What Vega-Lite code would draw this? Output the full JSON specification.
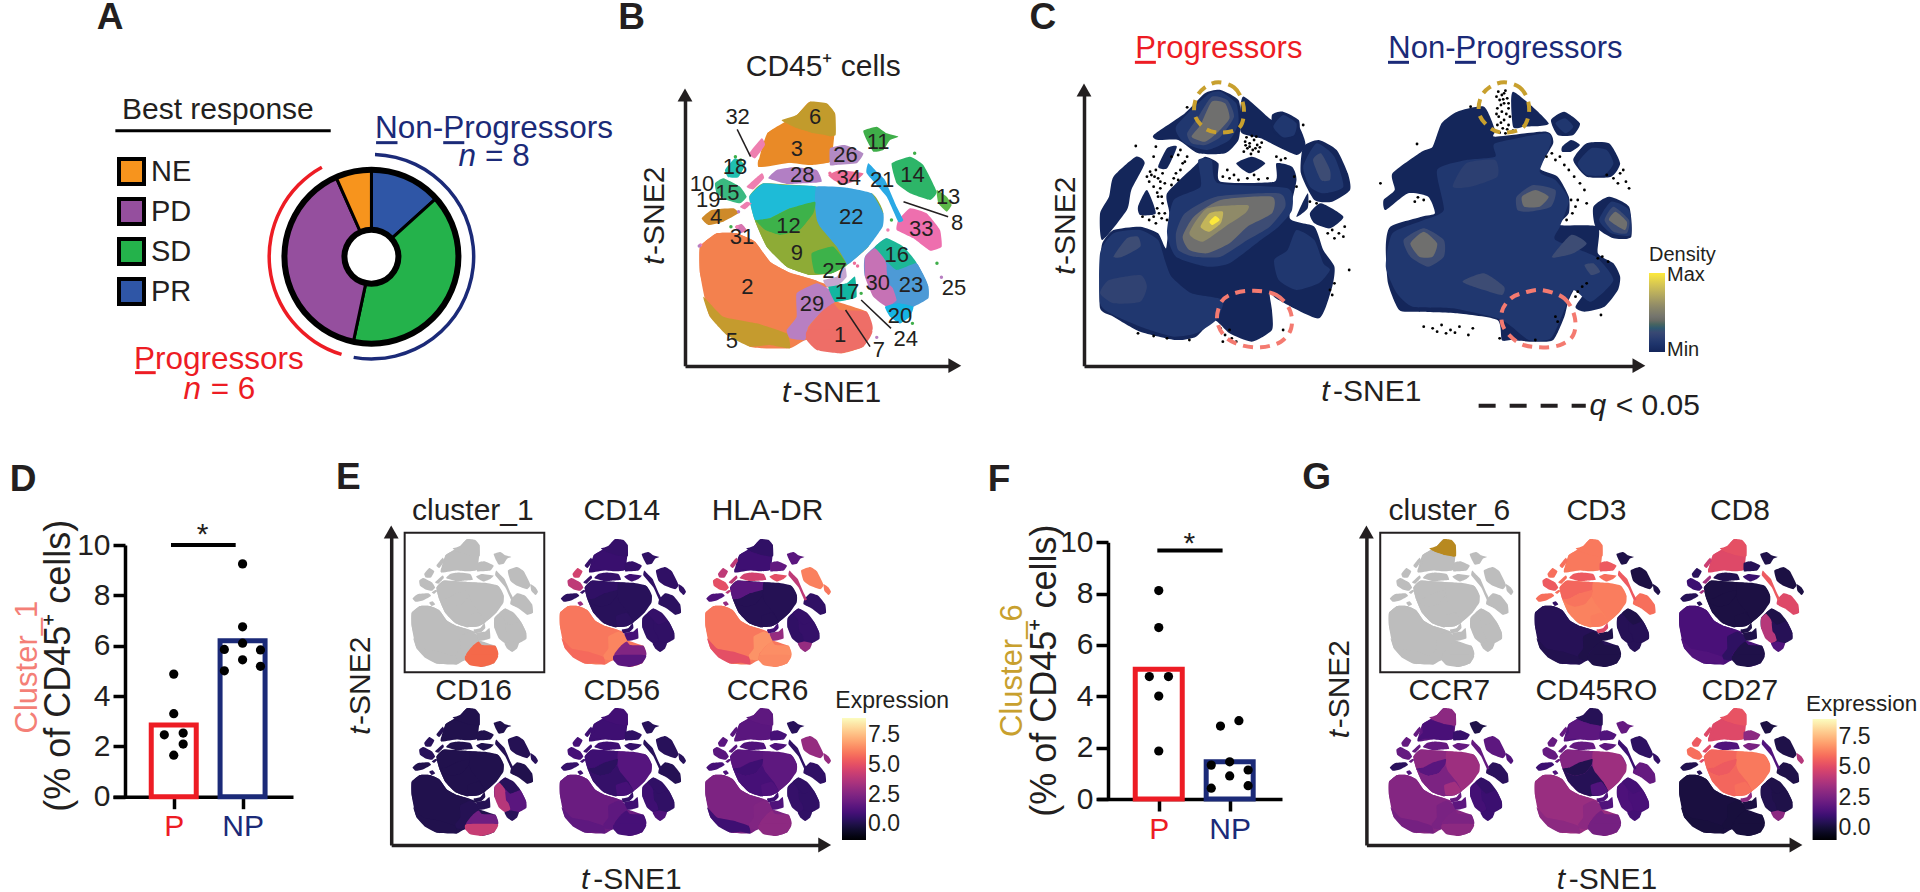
{"$schema":"https://vega.github.io/schema/vega-lite/v6.json","width":1920,"height":892,"padding":0,"autosize":"none","background":"white",
"config":{"view":{"stroke":null},"font":"Liberation Sans","axis":{"grid":false},"text":{"color":"#231f20"}},
"resolve":{"scale":{"x":"independent","y":"independent","fill":"independent","stroke":"independent","theta":"independent"},"axis":{"x":"independent","y":"independent"},"legend":{"fill":"independent"}},
"datasets":{
"map":[
{"c":"b1","x":30,"y":470},{"c":"b1","x":80,"y":430},{"c":"b1","x":140,"y":430},{"c":"b1","x":195,"y":455},{"c":"b1","x":240,"y":515},{"c":"b1","x":300,"y":548},{"c":"b1","x":380,"y":572},{"c":"b1","x":430,"y":630},{"c":"b1","x":530,"y":665},{"c":"b1","x":545,"y":720},{"c":"b1","x":520,"y":770},{"c":"b1","x":450,"y":790},{"c":"b1","x":350,"y":750},{"c":"b1","x":300,"y":775},{"c":"b1","x":180,"y":770},{"c":"b1","x":60,"y":680},{"c":"b1","x":30,"y":550},
{"c":"b2","x":178,"y":320},{"c":"b2","x":220,"y":280},{"c":"b2","x":380,"y":290},{"c":"b2","x":545,"y":310},{"c":"b2","x":580,"y":370},{"c":"b2","x":535,"y":470},{"c":"b2","x":470,"y":525},{"c":"b2","x":425,"y":550},{"c":"b2","x":360,"y":555},{"c":"b2","x":290,"y":530},{"c":"b2","x":230,"y":470},{"c":"b2","x":195,"y":392},
{"c":"b3","x":232,"y":130},{"c":"b3","x":320,"y":75},{"c":"b3","x":360,"y":35},{"c":"b3","x":435,"y":70},{"c":"b3","x":420,"y":215},{"c":"b3","x":300,"y":218},{"c":"b3","x":205,"y":230},
{"c":"b4","x":525,"y":500},{"c":"b4","x":590,"y":445},{"c":"b4","x":680,"y":520},{"c":"b4","x":715,"y":590},{"c":"b4","x":670,"y":650},{"c":"b4","x":630,"y":700},{"c":"b4","x":590,"y":650},{"c":"b4","x":525,"y":560},
{"c":"2","x":30,"y":470},{"c":"2","x":80,"y":430},{"c":"2","x":140,"y":430},{"c":"2","x":195,"y":455},{"c":"2","x":240,"y":515},{"c":"2","x":300,"y":548},{"c":"2","x":380,"y":572},{"c":"2","x":420,"y":590},{"c":"2","x":330,"y":610},{"c":"2","x":320,"y":720},{"c":"2","x":290,"y":745},{"c":"2","x":200,"y":700},{"c":"2","x":100,"y":690},{"c":"2","x":50,"y":620},{"c":"2","x":30,"y":550},
{"c":"5","x":40,"y":620},{"c":"5","x":100,"y":680},{"c":"5","x":200,"y":700},{"c":"5","x":290,"y":730},{"c":"5","x":300,"y":775},{"c":"5","x":240,"y":765},{"c":"5","x":180,"y":770},{"c":"5","x":110,"y":735},{"c":"5","x":60,"y":680},
{"c":"29","x":320,"y":610},{"c":"29","x":380,"y":580},{"c":"29","x":420,"y":600},{"c":"29","x":435,"y":635},{"c":"29","x":395,"y":665},{"c":"29","x":355,"y":710},{"c":"29","x":345,"y":750},{"c":"29","x":300,"y":745},{"c":"29","x":290,"y":720},{"c":"29","x":320,"y":680},
{"c":"1a","x":430,"y":640},{"c":"1a","x":450,"y":660},{"c":"1a","x":530,"y":665},{"c":"1a","x":545,"y":722},{"c":"1a","x":356,"y":722},{"c":"1a","x":395,"y":665},
{"c":"1b","x":356,"y":720},{"c":"1b","x":545,"y":720},{"c":"1b","x":520,"y":770},{"c":"1b","x":450,"y":790},{"c":"1b","x":380,"y":780},{"c":"1b","x":350,"y":750},
{"c":"17","x":415,"y":590},{"c":"17","x":470,"y":580},{"c":"17","x":495,"y":560},{"c":"17","x":500,"y":620},{"c":"17","x":470,"y":630},{"c":"17","x":435,"y":635},
{"c":"6","x":275,"y":90},{"c":"6","x":320,"y":75},{"c":"6","x":360,"y":35},{"c":"6","x":410,"y":40},{"c":"6","x":435,"y":70},{"c":"6","x":437,"y":135},{"c":"6","x":400,"y":140},{"c":"6","x":355,"y":125},{"c":"6","x":320,"y":115},{"c":"6","x":290,"y":100},
{"c":"3","x":232,"y":130},{"c":"3","x":280,"y":105},{"c":"3","x":320,"y":115},{"c":"3","x":360,"y":128},{"c":"3","x":420,"y":140},{"c":"3","x":420,"y":215},{"c":"3","x":360,"y":225},{"c":"3","x":300,"y":218},{"c":"3","x":245,"y":215},{"c":"3","x":205,"y":230},{"c":"3","x":205,"y":210},{"c":"3","x":235,"y":180},
{"c":"26","x":420,"y":175},{"c":"26","x":465,"y":165},{"c":"26","x":520,"y":190},{"c":"26","x":500,"y":220},{"c":"26","x":440,"y":225},{"c":"26","x":420,"y":225},
{"c":"28","x":235,"y":265},{"c":"28","x":260,"y":240},{"c":"28","x":310,"y":232},{"c":"28","x":380,"y":240},{"c":"28","x":395,"y":275},{"c":"28","x":340,"y":280},{"c":"28","x":290,"y":282},
{"c":"34","x":415,"y":255},{"c":"34","x":450,"y":240},{"c":"34","x":520,"y":250},{"c":"34","x":500,"y":270},{"c":"34","x":460,"y":285},{"c":"34","x":430,"y":270},
{"c":"c","x":178,"y":320},{"c":"c","x":220,"y":280},{"c":"c","x":290,"y":285},{"c":"c","x":380,"y":290},{"c":"c","x":395,"y":345},{"c":"c","x":375,"y":345},{"c":"c","x":300,"y":355},{"c":"c","x":240,"y":385},{"c":"c","x":195,"y":390},
{"c":"22","x":380,"y":290},{"c":"22","x":470,"y":293},{"c":"22","x":545,"y":310},{"c":"22","x":580,"y":370},{"c":"22","x":578,"y":410},{"c":"22","x":535,"y":470},{"c":"22","x":470,"y":525},{"c":"22","x":440,"y":470},{"c":"22","x":385,"y":410},{"c":"22","x":375,"y":345},
{"c":"12","x":195,"y":392},{"c":"12","x":240,"y":385},{"c":"12","x":300,"y":355},{"c":"12","x":375,"y":335},{"c":"12","x":370,"y":370},{"c":"12","x":330,"y":420},{"c":"12","x":270,"y":435},{"c":"12","x":225,"y":420},
{"c":"9","x":195,"y":392},{"c":"9","x":225,"y":420},{"c":"9","x":270,"y":435},{"c":"9","x":330,"y":420},{"c":"9","x":370,"y":375},{"c":"9","x":390,"y":410},{"c":"9","x":440,"y":470},{"c":"9","x":470,"y":525},{"c":"9","x":425,"y":550},{"c":"9","x":360,"y":555},{"c":"9","x":290,"y":530},{"c":"9","x":230,"y":470},
{"c":"9b","x":365,"y":490},{"c":"9b","x":430,"y":470},{"c":"9b","x":470,"y":525},{"c":"9b","x":425,"y":550},{"c":"9b","x":375,"y":550},
{"c":"27","x":400,"y":570},{"c":"27","x":440,"y":560},{"c":"27","x":465,"y":530},{"c":"27","x":470,"y":560},{"c":"27","x":445,"y":585},{"c":"27","x":410,"y":590},
{"c":"16","x":555,"y":470},{"c":"16","x":590,"y":445},{"c":"16","x":640,"y":470},{"c":"16","x":680,"y":520},{"c":"16","x":620,"y":540},{"c":"16","x":585,"y":510},{"c":"16","x":560,"y":495},
{"c":"30","x":525,"y":500},{"c":"30","x":555,"y":475},{"c":"30","x":585,"y":510},{"c":"30","x":600,"y":570},{"c":"30","x":620,"y":630},{"c":"30","x":590,"y":650},{"c":"30","x":550,"y":620},{"c":"30","x":525,"y":560},
{"c":"23","x":590,"y":530},{"c":"23","x":620,"y":542},{"c":"23","x":680,"y":520},{"c":"23","x":715,"y":590},{"c":"23","x":715,"y":625},{"c":"23","x":670,"y":650},{"c":"23","x":625,"y":640},{"c":"23","x":615,"y":600},{"c":"23","x":595,"y":580},
{"c":"20","x":585,"y":650},{"c":"20","x":625,"y":640},{"c":"20","x":670,"y":650},{"c":"20","x":660,"y":680},{"c":"20","x":630,"y":700},{"c":"20","x":600,"y":680},
{"c":"33","x":625,"y":390},{"c":"33","x":660,"y":355},{"c":"33","x":710,"y":370},{"c":"33","x":750,"y":420},{"c":"33","x":755,"y":470},{"c":"33","x":720,"y":482},{"c":"33","x":670,"y":445},{"c":"33","x":620,"y":420},
{"c":"14","x":605,"y":220},{"c":"14","x":660,"y":200},{"c":"14","x":700,"y":225},{"c":"14","x":740,"y":305},{"c":"14","x":720,"y":330},{"c":"14","x":660,"y":310},{"c":"14","x":620,"y":280},
{"c":"13","x":740,"y":300},{"c":"13","x":770,"y":320},{"c":"13","x":785,"y":345},{"c":"13","x":770,"y":365},{"c":"13","x":745,"y":340},
{"c":"11","x":520,"y":122},{"c":"11","x":560,"y":110},{"c":"11","x":590,"y":130},{"c":"11","x":625,"y":140},{"c":"11","x":600,"y":150},{"c":"11","x":580,"y":180},{"c":"11","x":550,"y":185},{"c":"11","x":530,"y":150},
{"c":"21","x":535,"y":220},{"c":"21","x":560,"y":245},{"c":"21","x":585,"y":270},{"c":"21","x":620,"y":350},{"c":"21","x":640,"y":390},{"c":"21","x":625,"y":395},{"c":"21","x":590,"y":320},{"c":"21","x":530,"y":250},
{"c":"4","x":35,"y":385},{"c":"4","x":65,"y":360},{"c":"4","x":130,"y":355},{"c":"4","x":145,"y":370},{"c":"4","x":100,"y":395},{"c":"4","x":55,"y":405},
{"c":"15","x":75,"y":280},{"c":"15","x":100,"y":265},{"c":"15","x":150,"y":290},{"c":"15","x":170,"y":320},{"c":"15","x":150,"y":340},{"c":"15","x":110,"y":330},{"c":"15","x":80,"y":310},
{"c":"18","x":105,"y":240},{"c":"18","x":135,"y":205},{"c":"18","x":165,"y":225},{"c":"18","x":145,"y":262},{"c":"18","x":115,"y":262},
{"c":"31","x":135,"y":410},{"c":"31","x":155,"y":402},{"c":"31","x":170,"y":420},{"c":"31","x":150,"y":430},
{"c":"32a","x":178,"y":190},{"c":"32a","x":215,"y":145},{"c":"32a","x":225,"y":165},{"c":"32a","x":195,"y":205},
{"c":"32b","x":170,"y":290},{"c":"32b","x":215,"y":250},{"c":"32b","x":222,"y":265},{"c":"32b","x":190,"y":298},
{"c":"32c","x":150,"y":350},{"c":"32c","x":170,"y":335},{"c":"32c","x":185,"y":340},{"c":"32c","x":165,"y":358}
],
"expr":[
{"c":"b1","CD14":6.0,"HLADR":6.0,"CD16":0.1,"CD56":1.9,"CCR6":2.4,"CD3":0.5,"CD8":1.3,"CCR7":2.8,"CD45RO":3.3,"CD27":0.15},
{"c":"b2","CD14":0.3,"HLADR":0.2,"CD16":0.1,"CD56":1.0,"CCR6":1.4,"CD3":6.3,"CD8":0.2,"CCR7":3.0,"CD45RO":2.4,"CD27":6.0},
{"c":"b3","CD14":0.7,"HLADR":0.8,"CD16":0.1,"CD56":0.8,"CCR6":1.5,"CD3":6.2,"CD8":5.0,"CCR7":1.8,"CD45RO":1.5,"CD27":5.0},
{"c":"b4","CD14":0.5,"HLADR":0.6,"CD16":1.5,"CD56":0.5,"CCR6":0.5,"CD3":0.5,"CD8":0.5,"CCR7":1.0,"CD45RO":1.3,"CD27":0.3},
{"c":"6","CD14":0.6,"HLADR":0.5,"CD16":0.1,"CD56":0.9,"CCR6":1.6,"CD3":6.2,"CD8":5.2,"CCR7":3.0,"CD45RO":0.5,"CD27":5.3},
{"c":"3","CD14":0.7,"HLADR":0.8,"CD16":0.1,"CD56":0.8,"CCR6":1.5,"CD3":6.2,"CD8":5.0,"CCR7":1.3,"CD45RO":1.8,"CD27":5.0},
{"c":"26","CD14":0.6,"HLADR":1.7,"CD16":0.1,"CD56":0.5,"CCR6":1.0,"CD3":5.5,"CD8":0.5,"CCR7":0.9,"CD45RO":1.5,"CD27":3.0},
{"c":"28","CD14":0.6,"HLADR":4.5,"CD16":0.1,"CD56":0.8,"CCR6":1.2,"CD3":5.5,"CD8":0.4,"CCR7":2.0,"CD45RO":2.0,"CD27":1.5},
{"c":"34","CD14":0.8,"HLADR":5.0,"CD16":0.1,"CD56":0.6,"CCR6":1.2,"CD3":6.0,"CD8":1.0,"CCR7":2.0,"CD45RO":1.8,"CD27":2.5},
{"c":"c","CD14":0.5,"HLADR":1.5,"CD16":0.1,"CD56":0.8,"CCR6":1.5,"CD3":5.8,"CD8":0.2,"CCR7":3.0,"CD45RO":2.8,"CD27":5.8},
{"c":"22","CD14":0.3,"HLADR":0.2,"CD16":0.1,"CD56":1.4,"CCR6":1.6,"CD3":6.3,"CD8":0.2,"CCR7":3.4,"CD45RO":3.4,"CD27":6.2},
{"c":"12","CD14":0.3,"HLADR":0.2,"CD16":0.1,"CD56":0.4,"CCR6":0.8,"CD3":6.1,"CD8":0.2,"CCR7":1.7,"CD45RO":0.4,"CD27":5.5},
{"c":"9","CD14":0.3,"HLADR":0.2,"CD16":0.1,"CD56":0.6,"CCR6":1.0,"CD3":6.4,"CD8":0.2,"CCR7":2.6,"CD45RO":0.5,"CD27":5.8},
{"c":"9b","CD14":0.4,"HLADR":0.2,"CD16":0.1,"CD56":1.0,"CCR6":1.2,"CD3":6.3,"CD8":0.2,"CCR7":3.5,"CD45RO":1.5,"CD27":6.0},
{"c":"27","CD14":0.5,"HLADR":1.0,"CD16":0.1,"CD56":0.6,"CCR6":0.8,"CD3":5.0,"CD8":0.3,"CCR7":2.0,"CD45RO":1.5,"CD27":3.0},
{"c":"2","CD14":6.0,"HLADR":6.0,"CD16":0.1,"CD56":1.9,"CCR6":2.4,"CD3":0.5,"CD8":1.3,"CCR7":2.8,"CD45RO":3.3,"CD27":0.15},
{"c":"5","CD14":5.7,"HLADR":5.0,"CD16":0.1,"CD56":1.6,"CCR6":0.8,"CD3":0.4,"CD8":1.5,"CCR7":2.4,"CD45RO":3.0,"CD27":0.1},
{"c":"29","CD14":6.3,"HLADR":6.6,"CD16":0.2,"CD56":1.6,"CCR6":2.5,"CD3":0.3,"CD8":0.7,"CCR7":2.5,"CD45RO":3.0,"CD27":0.1},
{"c":"1a","CD14":2.5,"HLADR":6.5,"CD16":2.0,"CD56":1.0,"CCR6":2.8,"CD3":0.3,"CD8":0.3,"CCR7":2.6,"CD45RO":2.4,"CD27":0.1},
{"c":"1b","CD14":1.5,"HLADR":6.4,"CD16":4.2,"CD56":1.0,"CCR6":2.8,"CD3":0.3,"CD8":0.3,"CCR7":3.0,"CD45RO":2.4,"CD27":0.1},
{"c":"17","CD14":1.0,"HLADR":3.0,"CD16":0.2,"CD56":0.8,"CCR6":1.2,"CD3":0.3,"CD8":0.3,"CCR7":1.8,"CD45RO":1.5,"CD27":0.2},
{"c":"16","CD14":0.6,"HLADR":0.6,"CD16":0.3,"CD56":0.5,"CCR6":0.5,"CD3":0.3,"CD8":0.3,"CCR7":0.8,"CD45RO":1.2,"CD27":0.3},
{"c":"30","CD14":0.5,"HLADR":0.5,"CD16":3.8,"CD56":0.8,"CCR6":0.6,"CD3":0.5,"CD8":4.0,"CCR7":1.2,"CD45RO":1.4,"CD27":0.4},
{"c":"23","CD14":0.5,"HLADR":0.6,"CD16":1.5,"CD56":0.5,"CCR6":0.5,"CD3":0.5,"CD8":0.5,"CCR7":1.0,"CD45RO":1.3,"CD27":0.3},
{"c":"20","CD14":0.5,"HLADR":3.0,"CD16":0.3,"CD56":1.2,"CCR6":0.5,"CD3":0.5,"CD8":1.5,"CCR7":1.0,"CD45RO":1.2,"CD27":3.0},
{"c":"33","CD14":0.4,"HLADR":0.5,"CD16":0.1,"CD56":0.2,"CCR6":0.5,"CD3":6.0,"CD8":5.0,"CCR7":0.6,"CD45RO":2.0,"CD27":0.3},
{"c":"14","CD14":0.5,"HLADR":6.2,"CD16":0.2,"CD56":0.3,"CCR6":3.0,"CD3":0.2,"CD8":0.2,"CCR7":1.8,"CD45RO":0.7,"CD27":0.3},
{"c":"13","CD14":0.5,"HLADR":6.0,"CD16":0.3,"CD56":0.3,"CCR6":3.0,"CD3":0.3,"CD8":0.2,"CCR7":1.5,"CD45RO":0.8,"CD27":4.0},
{"c":"11","CD14":0.5,"HLADR":1.5,"CD16":0.1,"CD56":0.3,"CCR6":0.3,"CD3":0.3,"CD8":0.3,"CCR7":0.3,"CD45RO":2.0,"CD27":0.2},
{"c":"21","CD14":0.5,"HLADR":4.0,"CD16":0.2,"CD56":0.3,"CCR6":0.5,"CD3":5.5,"CD8":5.5,"CCR7":2.0,"CD45RO":1.0,"CD27":1.5},
{"c":"4","CD14":0.4,"HLADR":1.2,"CD16":0.1,"CD56":0.6,"CCR6":1.0,"CD3":6.0,"CD8":0.5,"CCR7":0.6,"CD45RO":1.0,"CD27":0.4},
{"c":"15","CD14":4.0,"HLADR":5.0,"CD16":0.3,"CD56":1.0,"CCR6":1.5,"CD3":5.5,"CD8":1.0,"CCR7":2.0,"CD45RO":2.0,"CD27":6.0},
{"c":"18","CD14":4.5,"HLADR":4.0,"CD16":0.3,"CD56":1.0,"CCR6":1.5,"CD3":6.0,"CD8":0.6,"CCR7":2.0,"CD45RO":2.0,"CD27":5.5},
{"c":"31","CD14":3.0,"HLADR":3.0,"CD16":0.3,"CD56":0.8,"CCR6":1.2,"CD3":0.8,"CD8":0.5,"CCR7":1.5,"CD45RO":1.5,"CD27":0.5},
{"c":"32a","CD14":0.6,"HLADR":4.0,"CD16":0.2,"CD56":0.8,"CCR6":1.5,"CD3":6.0,"CD8":4.5,"CCR7":2.0,"CD45RO":2.0,"CD27":5.0},
{"c":"32b","CD14":0.6,"HLADR":4.0,"CD16":0.2,"CD56":0.8,"CCR6":1.5,"CD3":6.0,"CD8":3.5,"CCR7":2.0,"CD45RO":2.0,"CD27":5.0},
{"c":"32c","CD14":0.6,"HLADR":4.0,"CD16":0.2,"CD56":0.8,"CCR6":1.5,"CD3":6.0,"CD8":3.5,"CCR7":2.0,"CD45RO":2.0,"CD27":5.0}
],
"density":[
{"g":"p0a","l":0,"x":0,"y":800},{"g":"p0a","l":0,"x":5,"y":730},{"g":"p0a","l":0,"x":30,"y":690},{"g":"p0a","l":0,"x":90,"y":680},{"g":"p0a","l":0,"x":130,"y":700},{"g":"p0a","l":0,"x":148,"y":745},{"g":"p0a","l":0,"x":155,"y":640},{"g":"p0a","l":0,"x":150,"y":580},{"g":"p0a","l":0,"x":210,"y":500},{"g":"p0a","l":0,"x":235,"y":470},{"g":"p0a","l":0,"x":265,"y":490},{"g":"p0a","l":0,"x":270,"y":545},{"g":"p0a","l":0,"x":390,"y":545},{"g":"p0a","l":0,"x":395,"y":490},{"g":"p0a","l":0,"x":430,"y":500},{"g":"p0a","l":0,"x":440,"y":540},{"g":"p0a","l":0,"x":425,"y":655},{"g":"p0a","l":0,"x":480,"y":680},{"g":"p0a","l":0,"x":500,"y":750},{"g":"p0a","l":0,"x":525,"y":800},{"g":"p0a","l":0,"x":520,"y":860},{"g":"p0a","l":0,"x":490,"y":955},{"g":"p0a","l":0,"x":400,"y":900},{"g":"p0a","l":0,"x":380,"y":880},{"g":"p0a","l":0,"x":385,"y":930},{"g":"p0a","l":0,"x":385,"y":990},{"g":"p0a","l":0,"x":340,"y":1025},{"g":"p0a","l":0,"x":290,"y":1000},{"g":"p0a","l":0,"x":255,"y":960},{"g":"p0a","l":0,"x":215,"y":1010},{"g":"p0a","l":0,"x":170,"y":1020},{"g":"p0a","l":0,"x":90,"y":995},{"g":"p0a","l":0,"x":30,"y":950},{"g":"p0a","l":0,"x":0,"y":925},
{"g":"p0b","l":0,"x":120,"y":405},{"g":"p0b","l":0,"x":190,"y":340},{"g":"p0b","l":0,"x":235,"y":280},{"g":"p0b","l":0,"x":270,"y":270},{"g":"p0b","l":0,"x":310,"y":300},{"g":"p0b","l":0,"x":315,"y":360},{"g":"p0b","l":0,"x":310,"y":420},{"g":"p0b","l":0,"x":280,"y":460},{"g":"p0b","l":0,"x":220,"y":460},{"g":"p0b","l":0,"x":175,"y":420},{"g":"p0b","l":0,"x":130,"y":420},
{"g":"p0c","l":0,"x":320,"y":290},{"g":"p0c","l":0,"x":385,"y":360},{"g":"p0c","l":0,"x":440,"y":370},{"g":"p0c","l":0,"x":460,"y":430},{"g":"p0c","l":0,"x":440,"y":465},{"g":"p0c","l":0,"x":360,"y":415},{"g":"p0c","l":0,"x":315,"y":395},
{"g":"p0d","l":0,"x":385,"y":345},{"g":"p0d","l":0,"x":410,"y":335},{"g":"p0d","l":0,"x":445,"y":360},{"g":"p0d","l":0,"x":445,"y":400},{"g":"p0d","l":0,"x":415,"y":415},{"g":"p0d","l":0,"x":388,"y":395},
{"g":"p0e","l":0,"x":30,"y":530},{"g":"p0e","l":0,"x":80,"y":470},{"g":"p0e","l":0,"x":100,"y":490},{"g":"p0e","l":0,"x":70,"y":570},{"g":"p0e","l":0,"x":60,"y":630},{"g":"p0e","l":0,"x":5,"y":720},{"g":"p0e","l":0,"x":0,"y":640},{"g":"p0e","l":0,"x":20,"y":590},
{"g":"p0f","l":0,"x":85,"y":620},{"g":"p0f","l":0,"x":105,"y":570},{"g":"p0f","l":0,"x":125,"y":640},{"g":"p0f","l":0,"x":90,"y":645},
{"g":"p0g","l":0,"x":130,"y":500},{"g":"p0g","l":0,"x":150,"y":445},{"g":"p0g","l":0,"x":172,"y":440},{"g":"p0g","l":0,"x":150,"y":505},
{"g":"p0h","l":0,"x":455,"y":440},{"g":"p0h","l":0,"x":490,"y":420},{"g":"p0h","l":0,"x":530,"y":450},{"g":"p0h","l":0,"x":555,"y":520},{"g":"p0h","l":0,"x":560,"y":570},{"g":"p0h","l":0,"x":520,"y":605},{"g":"p0h","l":0,"x":480,"y":600},{"g":"p0h","l":0,"x":450,"y":520},
{"g":"p0i","l":0,"x":440,"y":650},{"g":"p0i","l":0,"x":465,"y":580},{"g":"p0i","l":0,"x":465,"y":625},
{"g":"p0j","l":0,"x":470,"y":640},{"g":"p0j","l":0,"x":495,"y":610},{"g":"p0j","l":0,"x":545,"y":650},{"g":"p0j","l":0,"x":515,"y":685},{"g":"p0j","l":0,"x":480,"y":670},
{"g":"p0k","l":0,"x":305,"y":490},{"g":"p0k","l":0,"x":340,"y":470},{"g":"p0k","l":0,"x":370,"y":490},{"g":"p0k","l":0,"x":335,"y":520},
{"g":"p1a","l":0.12,"x":150,"y":700},{"g":"p1a","l":0.12,"x":165,"y":600},{"g":"p1a","l":0.12,"x":225,"y":560},{"g":"p1a","l":0.12,"x":220,"y":480},{"g":"p1a","l":0.12,"x":250,"y":480},{"g":"p1a","l":0.12,"x":265,"y":550},{"g":"p1a","l":0.12,"x":420,"y":565},{"g":"p1a","l":0.12,"x":430,"y":630},{"g":"p1a","l":0.12,"x":400,"y":680},{"g":"p1a","l":0.12,"x":360,"y":720},{"g":"p1a","l":0.12,"x":290,"y":790},{"g":"p1a","l":0.12,"x":240,"y":800},{"g":"p1a","l":0.12,"x":170,"y":770},
{"g":"p1b","l":0.12,"x":0,"y":760},{"g":"p1b","l":0.12,"x":30,"y":700},{"g":"p1b","l":0.12,"x":90,"y":690},{"g":"p1b","l":0.12,"x":130,"y":720},{"g":"p1b","l":0.12,"x":145,"y":780},{"g":"p1b","l":0.12,"x":160,"y":830},{"g":"p1b","l":0.12,"x":205,"y":880},{"g":"p1b","l":0.12,"x":275,"y":900},{"g":"p1b","l":0.12,"x":260,"y":960},{"g":"p1b","l":0.12,"x":215,"y":1000},{"g":"p1b","l":0.12,"x":165,"y":1010},{"g":"p1b","l":0.12,"x":100,"y":985},{"g":"p1b","l":0.12,"x":30,"y":945},{"g":"p1b","l":0.12,"x":0,"y":910},
{"g":"p1c","l":0.12,"x":390,"y":780},{"g":"p1c","l":0.12,"x":420,"y":750},{"g":"p1c","l":0.12,"x":440,"y":690},{"g":"p1c","l":0.12,"x":480,"y":720},{"g":"p1c","l":0.12,"x":500,"y":790},{"g":"p1c","l":0.12,"x":515,"y":810},{"g":"p1c","l":0.12,"x":490,"y":850},{"g":"p1c","l":0.12,"x":440,"y":870},{"g":"p1c","l":0.12,"x":400,"y":840},
{"g":"p1d","l":0.12,"x":170,"y":380},{"g":"p1d","l":0.12,"x":240,"y":285},{"g":"p1d","l":0.12,"x":270,"y":275},{"g":"p1d","l":0.12,"x":305,"y":310},{"g":"p1d","l":0.12,"x":310,"y":370},{"g":"p1d","l":0.12,"x":290,"y":420},{"g":"p1d","l":0.12,"x":240,"y":450},{"g":"p1d","l":0.12,"x":190,"y":430},
{"g":"p1e","l":0.12,"x":388,"y":380},{"g":"p1e","l":0.12,"x":410,"y":345},{"g":"p1e","l":0.12,"x":440,"y":370},{"g":"p1e","l":0.12,"x":435,"y":405},{"g":"p1e","l":0.12,"x":410,"y":412},
{"g":"p1f","l":0.12,"x":455,"y":500},{"g":"p1f","l":0.12,"x":485,"y":430},{"g":"p1f","l":0.12,"x":525,"y":470},{"g":"p1f","l":0.12,"x":545,"y":560},{"g":"p1f","l":0.12,"x":500,"y":580},{"g":"p1f","l":0.12,"x":470,"y":560},
{"g":"p2a","l":0.27,"x":170,"y":700},{"g":"p2a","l":0.27,"x":190,"y":640},{"g":"p2a","l":0.27,"x":260,"y":590},{"g":"p2a","l":0.27,"x":400,"y":580},{"g":"p2a","l":0.27,"x":415,"y":620},{"g":"p2a","l":0.27,"x":380,"y":680},{"g":"p2a","l":0.27,"x":330,"y":720},{"g":"p2a","l":0.27,"x":270,"y":770},{"g":"p2a","l":0.27,"x":210,"y":770},{"g":"p2a","l":0.27,"x":175,"y":750},
{"g":"p2b","l":0.27,"x":30,"y":770},{"g":"p2b","l":0.27,"x":60,"y":715},{"g":"p2b","l":0.27,"x":85,"y":710},{"g":"p2b","l":0.27,"x":90,"y":740},{"g":"p2b","l":0.27,"x":50,"y":770},
{"g":"p2c","l":0.2,"x":0,"y":880},{"g":"p2c","l":0.2,"x":20,"y":840},{"g":"p2c","l":0.2,"x":90,"y":825},{"g":"p2c","l":0.2,"x":105,"y":860},{"g":"p2c","l":0.2,"x":90,"y":905},{"g":"p2c","l":0.2,"x":30,"y":910},
{"g":"p2d","l":0.27,"x":195,"y":400},{"g":"p2d","l":0.27,"x":220,"y":350},{"g":"p2d","l":0.27,"x":250,"y":290},{"g":"p2d","l":0.27,"x":285,"y":300},{"g":"p2d","l":0.27,"x":300,"y":350},{"g":"p2d","l":0.27,"x":270,"y":410},{"g":"p2d","l":0.27,"x":235,"y":435},{"g":"p2d","l":0.27,"x":205,"y":430},
{"g":"p2e","l":0.27,"x":477,"y":480},{"g":"p2e","l":0.27,"x":495,"y":460},{"g":"p2e","l":0.27,"x":515,"y":510},{"g":"p2e","l":0.27,"x":515,"y":540},{"g":"p2e","l":0.27,"x":495,"y":540},
{"g":"p3a","l":0.42,"x":205,"y":410},{"g":"p3a","l":0.42,"x":225,"y":375},{"g":"p3a","l":0.42,"x":250,"y":305},{"g":"p3a","l":0.42,"x":280,"y":310},{"g":"p3a","l":0.42,"x":290,"y":355},{"g":"p3a","l":0.42,"x":265,"y":395},{"g":"p3a","l":0.42,"x":235,"y":425},
{"g":"p3b","l":0.42,"x":185,"y":710},{"g":"p3b","l":0.42,"x":210,"y":650},{"g":"p3b","l":0.42,"x":270,"y":600},{"g":"p3b","l":0.42,"x":385,"y":590},{"g":"p3b","l":0.42,"x":385,"y":640},{"g":"p3b","l":0.42,"x":330,"y":680},{"g":"p3b","l":0.42,"x":290,"y":730},{"g":"p3b","l":0.42,"x":240,"y":760},{"g":"p3b","l":0.42,"x":200,"y":750},
{"g":"p4","l":0.58,"x":200,"y":700},{"g":"p4","l":0.58,"x":240,"y":625},{"g":"p4","l":0.58,"x":330,"y":615},{"g":"p4","l":0.58,"x":325,"y":640},{"g":"p4","l":0.58,"x":280,"y":680},{"g":"p4","l":0.58,"x":230,"y":725},
{"g":"p5","l":0.78,"x":225,"y":680},{"g":"p5","l":0.78,"x":245,"y":640},{"g":"p5","l":0.78,"x":275,"y":635},{"g":"p5","l":0.78,"x":270,"y":670},{"g":"p5","l":0.78,"x":245,"y":695},
{"g":"p6","l":1,"x":245,"y":665},{"g":"p6","l":1,"x":258,"y":648},{"g":"p6","l":1,"x":268,"y":660},{"g":"p6","l":1,"x":252,"y":675},
{"g":"n0a","l":0,"x":640,"y":740},{"g":"n0a","l":0,"x":650,"y":680},{"g":"n0a","l":0,"x":720,"y":650},{"g":"n0a","l":0,"x":750,"y":640},{"g":"n0a","l":0,"x":735,"y":590},{"g":"n0a","l":0,"x":690,"y":580},{"g":"n0a","l":0,"x":640,"y":630},{"g":"n0a","l":0,"x":635,"y":600},{"g":"n0a","l":0,"x":660,"y":570},{"g":"n0a","l":0,"x":655,"y":520},{"g":"n0a","l":0,"x":720,"y":455},{"g":"n0a","l":0,"x":745,"y":440},{"g":"n0a","l":0,"x":765,"y":370},{"g":"n0a","l":0,"x":800,"y":335},{"g":"n0a","l":0,"x":860,"y":320},{"g":"n0a","l":0,"x":885,"y":390},{"g":"n0a","l":0,"x":885,"y":410},{"g":"n0a","l":0,"x":1000,"y":395},{"g":"n0a","l":0,"x":1015,"y":430},{"g":"n0a","l":0,"x":985,"y":505},{"g":"n0a","l":0,"x":1025,"y":530},{"g":"n0a","l":0,"x":1050,"y":590},{"g":"n0a","l":0,"x":1050,"y":640},{"g":"n0a","l":0,"x":1030,"y":675},{"g":"n0a","l":0,"x":1115,"y":680},{"g":"n0a","l":0,"x":1115,"y":760},{"g":"n0a","l":0,"x":1150,"y":790},{"g":"n0a","l":0,"x":1165,"y":830},{"g":"n0a","l":0,"x":1160,"y":870},{"g":"n0a","l":0,"x":1130,"y":920},{"g":"n0a","l":0,"x":1085,"y":935},{"g":"n0a","l":0,"x":1065,"y":920},{"g":"n0a","l":0,"x":1100,"y":850},{"g":"n0a","l":0,"x":1075,"y":840},{"g":"n0a","l":0,"x":1050,"y":900},{"g":"n0a","l":0,"x":1040,"y":950},{"g":"n0a","l":0,"x":1015,"y":1020},{"g":"n0a","l":0,"x":970,"y":1025},{"g":"n0a","l":0,"x":920,"y":1020},{"g":"n0a","l":0,"x":900,"y":1020},{"g":"n0a","l":0,"x":890,"y":960},{"g":"n0a","l":0,"x":800,"y":940},{"g":"n0a","l":0,"x":710,"y":935},{"g":"n0a","l":0,"x":670,"y":930},{"g":"n0a","l":0,"x":645,"y":850},
{"g":"n0b","l":0,"x":925,"y":275},{"g":"n0b","l":0,"x":1005,"y":370},{"g":"n0b","l":0,"x":950,"y":380},{"g":"n0b","l":0,"x":925,"y":380},
{"g":"n0c","l":0,"x":1010,"y":360},{"g":"n0c","l":0,"x":1040,"y":335},{"g":"n0c","l":0,"x":1075,"y":370},{"g":"n0c","l":0,"x":1060,"y":405},{"g":"n0c","l":0,"x":1025,"y":405},
{"g":"n0d","l":0,"x":1035,"y":440},{"g":"n0d","l":0,"x":1055,"y":420},{"g":"n0d","l":0,"x":1075,"y":435},{"g":"n0d","l":0,"x":1055,"y":455},{"g":"n0d","l":0,"x":1035,"y":455},
{"g":"n0e","l":0,"x":1060,"y":480},{"g":"n0e","l":0,"x":1090,"y":430},{"g":"n0e","l":0,"x":1140,"y":430},{"g":"n0e","l":0,"x":1165,"y":490},{"g":"n0e","l":0,"x":1145,"y":530},{"g":"n0e","l":0,"x":1090,"y":530},
{"g":"n0f","l":0,"x":1105,"y":620},{"g":"n0f","l":0,"x":1140,"y":590},{"g":"n0f","l":0,"x":1185,"y":620},{"g":"n0f","l":0,"x":1190,"y":710},{"g":"n0f","l":0,"x":1150,"y":715},{"g":"n0f","l":0,"x":1110,"y":680},
{"g":"n1a","l":0.12,"x":655,"y":700},{"g":"n1a","l":0.12,"x":725,"y":660},{"g":"n1a","l":0.12,"x":770,"y":630},{"g":"n1a","l":0.12,"x":755,"y":510},{"g":"n1a","l":0.12,"x":820,"y":480},{"g":"n1a","l":0.12,"x":885,"y":470},{"g":"n1a","l":0.12,"x":885,"y":430},{"g":"n1a","l":0.12,"x":1000,"y":400},{"g":"n1a","l":0.12,"x":1010,"y":430},{"g":"n1a","l":0.12,"x":985,"y":515},{"g":"n1a","l":0.12,"x":1020,"y":540},{"g":"n1a","l":0.12,"x":1050,"y":600},{"g":"n1a","l":0.12,"x":1030,"y":680},{"g":"n1a","l":0.12,"x":1020,"y":720},{"g":"n1a","l":0.12,"x":1110,"y":770},{"g":"n1a","l":0.12,"x":1150,"y":840},{"g":"n1a","l":0.12,"x":1100,"y":905},{"g":"n1a","l":0.12,"x":1060,"y":870},{"g":"n1a","l":0.12,"x":1040,"y":930},{"g":"n1a","l":0.12,"x":1010,"y":1015},{"g":"n1a","l":0.12,"x":960,"y":1020},{"g":"n1a","l":0.12,"x":900,"y":960},{"g":"n1a","l":0.12,"x":790,"y":925},{"g":"n1a","l":0.12,"x":700,"y":920},{"g":"n1a","l":0.12,"x":665,"y":880},{"g":"n1a","l":0.12,"x":640,"y":800},
{"g":"n1b","l":0.12,"x":1020,"y":370},{"g":"n1b","l":0.12,"x":1042,"y":355},{"g":"n1b","l":0.12,"x":1060,"y":380},{"g":"n1b","l":0.12,"x":1042,"y":400},
{"g":"n1c","l":0.12,"x":1070,"y":490},{"g":"n1c","l":0.12,"x":1100,"y":445},{"g":"n1c","l":0.12,"x":1135,"y":450},{"g":"n1c","l":0.12,"x":1150,"y":490},{"g":"n1c","l":0.12,"x":1130,"y":525},{"g":"n1c","l":0.12,"x":1090,"y":525},
{"g":"n1d","l":0.12,"x":1118,"y":660},{"g":"n1d","l":0.12,"x":1145,"y":605},{"g":"n1d","l":0.12,"x":1185,"y":630},{"g":"n1d","l":0.12,"x":1188,"y":705},{"g":"n1d","l":0.12,"x":1145,"y":700},
{"g":"n2a","l":0.27,"x":680,"y":720},{"g":"n2a","l":0.27,"x":725,"y":685},{"g":"n2a","l":0.27,"x":770,"y":720},{"g":"n2a","l":0.27,"x":770,"y":770},{"g":"n2a","l":0.27,"x":735,"y":800},{"g":"n2a","l":0.27,"x":695,"y":770},
{"g":"n2b","l":0.27,"x":933,"y":590},{"g":"n2b","l":0.27,"x":970,"y":555},{"g":"n2b","l":0.27,"x":1020,"y":570},{"g":"n2b","l":0.27,"x":1010,"y":620},{"g":"n2b","l":0.27,"x":960,"y":635},{"g":"n2b","l":0.27,"x":935,"y":630},
{"g":"n2c","l":0.27,"x":812,"y":845},{"g":"n2c","l":0.27,"x":860,"y":820},{"g":"n2c","l":0.27,"x":905,"y":860},{"g":"n2c","l":0.27,"x":900,"y":885},{"g":"n2c","l":0.27,"x":860,"y":870},
{"g":"n2d","l":0.27,"x":1012,"y":770},{"g":"n2d","l":0.27,"x":1055,"y":705},{"g":"n2d","l":0.27,"x":1090,"y":730},{"g":"n2d","l":0.27,"x":1060,"y":760},{"g":"n2d","l":0.27,"x":1030,"y":770},
{"g":"n2e","l":0.27,"x":1085,"y":795},{"g":"n2e","l":0.27,"x":1105,"y":790},{"g":"n2e","l":0.27,"x":1120,"y":815},{"g":"n2e","l":0.27,"x":1100,"y":825},
{"g":"n2f","l":0.27,"x":1130,"y":660},{"g":"n2f","l":0.27,"x":1150,"y":620},{"g":"n2f","l":0.27,"x":1185,"y":660},{"g":"n2f","l":0.27,"x":1180,"y":700},{"g":"n2f","l":0.27,"x":1150,"y":695},
{"g":"n2g","l":0.18,"x":790,"y":560},{"g":"n2g","l":0.18,"x":820,"y":490},{"g":"n2g","l":0.18,"x":885,"y":480},{"g":"n2g","l":0.18,"x":890,"y":530},{"g":"n2g","l":0.18,"x":830,"y":560},
{"g":"n3a","l":0.42,"x":695,"y":730},{"g":"n3a","l":0.42,"x":725,"y":695},{"g":"n3a","l":0.42,"x":755,"y":730},{"g":"n3a","l":0.42,"x":745,"y":770},{"g":"n3a","l":0.42,"x":715,"y":770},
{"g":"n3b","l":0.42,"x":945,"y":590},{"g":"n3b","l":0.42,"x":975,"y":570},{"g":"n3b","l":0.42,"x":1005,"y":590},{"g":"n3b","l":0.42,"x":985,"y":620},{"g":"n3b","l":0.42,"x":950,"y":620},
{"g":"n3c","l":0.42,"x":1140,"y":660},{"g":"n3c","l":0.42,"x":1155,"y":635},{"g":"n3c","l":0.42,"x":1180,"y":665},{"g":"n3c","l":0.42,"x":1175,"y":690}
],
"speck":[
{"x":325,"y":425},{"x":335,"y":430},{"x":345,"y":420},{"x":352,"y":435},{"x":330,"y":445},{"x":342,"y":450},{"x":355,"y":455},{"x":322,"y":455},{"x":338,"y":462},{"x":350,"y":410},{"x":362,"y":428},{"x":328,"y":412},{"x":340,"y":408},{"x":358,"y":442},{"x":348,"y":445},{"x":335,"y":440},{"x":326,"y":436},{"x":275,"y":530},{"x":290,"y":535},{"x":310,"y":540},{"x":330,"y":535},{"x":355,"y":538},{"x":375,"y":535},{"x":285,"y":510},{"x":300,"y":525},{"x":345,"y":525},{"x":405,"y":480},{"x":415,"y":475},{"x":395,"y":470},
{"x":115,"y":525},{"x":125,"y":510},{"x":110,"y":545},{"x":130,"y":535},{"x":140,"y":520},{"x":120,"y":560},{"x":135,"y":565},{"x":145,"y":550},{"x":130,"y":590},{"x":140,"y":610},{"x":128,"y":625},{"x":145,"y":640},{"x":150,"y":660},{"x":95,"y":650},{"x":110,"y":660},{"x":125,"y":670},{"x":180,"y":450},{"x":195,"y":470},{"x":185,"y":490},{"x":170,"y":520},{"x":120,"y":470},{"x":125,"y":440},{"x":175,"y":540},{"x":160,"y":555},{"x":122,"y":530},{"x":135,"y":545},{"x":128,"y":578},{"x":138,"y":590},{"x":132,"y":640},{"x":138,"y":655},{"x":120,"y":650},{"x":105,"y":530},{"x":112,"y":515},{"x":160,"y":470},{"x":175,"y":465},{"x":190,"y":485},{"x":165,"y":535},{"x":180,"y":510},
{"x":470,"y":605},{"x":485,"y":610},{"x":520,"y":690},{"x":535,"y":700},{"x":548,"y":680},{"x":510,"y":700},{"x":525,"y":715},{"x":545,"y":710},{"x":440,"y":560},{"x":435,"y":530},{"x":515,"y":870},{"x":525,"y":850},{"x":520,"y":885},{"x":80,"y":438},{"x":455,"y":375},{"x":195,"y":322},
{"x":270,"y":985},{"x":280,"y":1005},{"x":295,"y":1015},{"x":305,"y":1025},{"x":275,"y":1025},{"x":290,"y":990},{"x":85,"y":1000},{"x":120,"y":1008},{"x":150,"y":1015},{"x":200,"y":1020},{"x":410,"y":990},{"x":558,"y":810},
{"x":892,"y":275},{"x":900,"y":285},{"x":908,"y":272},{"x":895,"y":300},{"x":905,"y":310},{"x":912,"y":295},{"x":890,"y":325},{"x":900,"y":335},{"x":915,"y":325},{"x":893,"y":350},{"x":905,"y":360},{"x":918,"y":350},{"x":890,"y":375},{"x":902,"y":385},{"x":915,"y":375},{"x":925,"y":392},{"x":895,"y":398},{"x":908,"y":400},{"x":830,"y":320},{"x":848,"y":318},{"x":888,"y":290},{"x":903,"y":298},{"x":898,"y":315},{"x":910,"y":342},{"x":888,"y":342},{"x":898,"y":368},{"x":912,"y":388},{"x":905,"y":280},{"x":915,"y":310},
{"x":1000,"y":470},{"x":1012,"y":460},{"x":1020,"y":480},{"x":1030,"y":470},{"x":1040,"y":495},{"x":1050,"y":510},{"x":1062,"y":530},{"x":1075,"y":550},{"x":1085,"y":570},{"x":1055,"y":600},{"x":1065,"y":620},{"x":1058,"y":640},{"x":1045,"y":660},{"x":1070,"y":600},{"x":1090,"y":610},
{"x":1135,"y":525},{"x":1150,"y":535},{"x":1165,"y":520},{"x":1178,"y":545},{"x":1185,"y":565},{"x":1160,"y":550},{"x":1172,"y":510},{"x":1125,"y":770},{"x":1138,"y":785},{"x":1115,"y":775},{"x":1070,"y":875},{"x":1080,"y":860},{"x":1065,"y":890},{"x":1090,"y":850},
{"x":725,"y":980},{"x":745,"y":985},{"x":765,"y":975},{"x":785,"y":990},{"x":805,"y":980},{"x":825,"y":1005},{"x":755,"y":995},{"x":775,"y":1000},{"x":795,"y":998},{"x":835,"y":985},{"x":1020,"y":950},{"x":1025,"y":965},{"x":975,"y":1020},{"x":895,"y":1015},{"x":725,"y":600},{"x":705,"y":605},{"x":712,"y":592},{"x":628,"y":550},{"x":1122,"y":945},{"x":710,"y":432}
],
"ellipses":[
{"g":"pg","k":"g","x":265,"y":247},{"g":"pg","k":"g","x":300,"y":262},{"g":"pg","k":"g","x":318,"y":300},{"g":"pg","k":"g","x":322,"y":345},{"g":"pg","k":"g","x":310,"y":385},{"g":"pg","k":"g","x":270,"y":398},{"g":"pg","k":"g","x":235,"y":385},{"g":"pg","k":"g","x":212,"y":345},{"g":"pg","k":"g","x":215,"y":295},{"g":"pg","k":"g","x":235,"y":262},
{"g":"ng","k":"g","x":905,"y":247},{"g":"ng","k":"g","x":940,"y":262},{"g":"ng","k":"g","x":958,"y":300},{"g":"ng","k":"g","x":960,"y":345},{"g":"ng","k":"g","x":945,"y":385},{"g":"ng","k":"g","x":905,"y":398},{"g":"ng","k":"g","x":875,"y":385},{"g":"ng","k":"g","x":850,"y":345},{"g":"ng","k":"g","x":852,"y":295},{"g":"ng","k":"g","x":872,"y":262},
{"g":"ps","k":"s","x":345,"y":872},{"g":"ps","k":"s","x":395,"y":885},{"g":"ps","k":"s","x":425,"y":930},{"g":"ps","k":"s","x":428,"y":985},{"g":"ps","k":"s","x":405,"y":1025},{"g":"ps","k":"s","x":360,"y":1042},{"g":"ps","k":"s","x":315,"y":1035},{"g":"ps","k":"s","x":280,"y":1010},{"g":"ps","k":"s","x":262,"y":960},{"g":"ps","k":"s","x":272,"y":905},{"g":"ps","k":"s","x":300,"y":880},
{"g":"ns","k":"s","x":990,"y":870},{"g":"ns","k":"s","x":1040,"y":895},{"g":"ns","k":"s","x":1063,"y":950},{"g":"ns","k":"s","x":1060,"y":1005},{"g":"ns","k":"s","x":1030,"y":1035},{"g":"ns","k":"s","x":985,"y":1042},{"g":"ns","k":"s","x":940,"y":1030},{"g":"ns","k":"s","x":905,"y":985},{"g":"ns","k":"s","x":900,"y":935},{"g":"ns","k":"s","x":920,"y":895},{"g":"ns","k":"s","x":950,"y":878}
]
},
"layer":[
{"encoding":{"x":{"field":"x","type":"quantitative","scale":{"domain":[0,1568],"range":[60,620]},"axis":null},"y":{"field":"y","type":"quantitative","scale":{"domain":[0,1200],"range":[0,400]},"axis":null}},
"resolve":{"scale":{"theta":"independent","fill":"independent"},"legend":{"fill":"independent"}},
"layer":[
{"data":{"values":[{"r":"PR","n":2,"i":0,"x":872,"y":770},{"r":"SD","n":6,"i":1,"x":872,"y":770},{"r":"PD","n":6,"i":2,"x":872,"y":770},{"r":"NE","n":1,"i":3,"x":872,"y":770}]},
 "mark":{"type":"arc","radius":87,"radius2":27,"stroke":"black","strokeWidth":3},
 "encoding":{"theta":{"field":"n","type":"quantitative","stack":true},"order":{"field":"i"},
  "fill":{"field":"r","type":"nominal","scale":{"domain":["NE","PD","SD","PR"],"range":["#F7941D","#954F9E","#24B24B","#2F56A6"]},
   "legend":{"orient":"none","legendX":117,"legendY":95,"title":"Best response","titleLimit":400,"titleFontSize":30,"titleFontWeight":"normal","titleColor":"#231f20","titlePadding":32,"labelFontSize":29,"labelColor":"#231f20","symbolType":"square","symbolSize":625,"symbolStrokeColor":"black","symbolStrokeWidth":4,"rowPadding":-1,"labelOffset":5,"encode":{"title":{"update":{"dx":{"value":5}}}}}}}},
{"mark":{"type":"arc","radius":90,"radius2":84,"theta":0,"theta2":6.2832,"fill":"black"},"data":{"values":[{"ring":"outer","x":872,"y":770}]}},
{"mark":{"type":"arc","radius":30,"radius2":24,"theta":0,"theta2":6.2832,"fill":"black"},"data":{"values":[{"ring":"inner","x":872,"y":770}]}},
{"data":{"values":[{"g":"Non-Progressors","a":2,"b":190,"col":"NP","x":872,"y":770},{"g":"Progressors","a":197,"b":331,"col":"P","x":872,"y":770}]},
 "mark":{"type":"arc","radius":104,"radius2":100.5},
 "encoding":{"theta":{"field":"a","type":"quantitative","scale":{"domain":[0,360],"range":[0,6.2832]}},"theta2":{"field":"b"},"fill":{"field":"col","type":"nominal","scale":{"domain":["P","NP"],"range":["#ED1C24","#1B2A78"]},"legend":null}}},
{"data":{"values":[{"x":155,"x2":758,"y":392}]},"mark":{"type":"rule","strokeWidth":3,"color":"black"},"encoding":{"x2":{"field":"x2"}}},
{"data":{"values":[{"x":885,"x2":945,"y":428},{"x":1073,"x2":1132,"y":428}]},"mark":{"type":"rule","strokeWidth":3,"color":"#1B2A78"},"encoding":{"x2":{"field":"x2"}}},
{"data":{"values":[{"x":210,"x2":268,"y":1118}]},"mark":{"type":"rule","strokeWidth":3,"color":"#ED1C24"},"encoding":{"x2":{"field":"x2"}}},
{"data":{"values":[{"t":"A","x":140,"y":55}]},"mark":{"type":"text","fontSize":37,"fontWeight":"bold"},"encoding":{"text":{"field":"t"}}},
{"data":{"values":[{"t":"Non-Progressors","x":1215,"y":386}]},"mark":{"type":"text","fontSize":31.5,"color":"#1B2A78"},"encoding":{"text":{"field":"t"}}},
{"data":{"values":[{"t":"= 8","x":1190,"y":472}]},"mark":{"type":"text","fontSize":31.5,"color":"#1B2A78","align":"left"},"encoding":{"text":{"field":"t"}}},
{"data":{"values":[{"t":"n","x":1140,"y":472}]},"mark":{"type":"text","fontSize":31.5,"color":"#1B2A78","fontStyle":"italic"},"encoding":{"text":{"field":"t"}}},
{"data":{"values":[{"t":"Progressors","x":445,"y":1080}]},"mark":{"type":"text","fontSize":31.5,"color":"#ED1C24"},"encoding":{"text":{"field":"t"}}},
{"data":{"values":[{"t":"= 6","x":422,"y":1170}]},"mark":{"type":"text","fontSize":31.5,"color":"#ED1C24","align":"left"},"encoding":{"text":{"field":"t"}}},
{"data":{"values":[{"t":"n","x":370,"y":1170}]},"mark":{"type":"text","fontSize":31.5,"color":"#ED1C24","fontStyle":"italic"},"encoding":{"text":{"field":"t"}}}
]},
{"resolve":{"scale":{"x":"independent","y":"independent"},"axis":{"x":"independent","y":"independent"}},
"layer":[
{"data":{"name":"map"},"mark":{"type":"line","strokeWidth":0,"order":false,"interpolate":"cardinal-closed","tension":0.6},
 "encoding":{"x":{"field":"x","type":"quantitative","scale":{"domain":[0,780],"range":[690,950]},"axis":null},"y":{"field":"y","type":"quantitative","scale":{"domain":[0,810],"range":[90,360]},"axis":null},"detail":{"field":"c","type":"nominal"},
  "fill":{"field":"c","type":"nominal","legend":null,"scale":{"domain":["b1","b2","b3","b4","2","5","29","1a","1b","17","6","3","26","28","34","c","22","12","9","9b","27","16","30","23","20","33","14","13","11","21","4","15","18","31","32a","32b","32c"],"range":["#F3814E","#8EAB36","#E98A27","#4D9AD6","#F3814E","#C59B2E","#B87FC2","#EE6E67","#EE6E67","#12B6A0","#C29B2C","#E98A27","#B28AC4","#B27FC4","#EE6F9A","#1EBBD7","#3DA5DE","#3DB24A","#8EAB36","#3DB24A","#C6A6D0","#1DB797","#C672B5","#4D9AD6","#16B4E5","#EE6FAE","#2DB568","#5DB849","#3FAE49","#2AA9E5","#CE8A2A","#3AB980","#20BFB0","#D874B0","#EE7FB0","#EE7FB0","#EE7FB0"]}}}},
{"encoding":{"x":{"field":"x","type":"quantitative","scale":{"domain":[145,750],"range":[685,954.8]},"axis":{"orient":"bottom","offset":-526,"labels":false,"ticks":false,"title":null,"domainWidth":3.5,"domainColor":"#231f20"}},"y":{"field":"y","type":"quantitative","scale":{"domain":[285,1097],"range":[95,365.7]},"axis":{"orient":"left","offset":-685,"labels":false,"ticks":false,"title":null,"domainWidth":3.5,"domainColor":"#231f20"}}},
"layer":[
{"data":{"values":[{"x":270,"y":480,"c":"#3FAE49"},{"x":258,"y":470,"c":"#3FAE49"},{"x":180,"y":735,"c":"#EE7FB0"},{"x":177,"y":738,"c":"#B87FC2"},{"x":525,"y":790,"c":"#EE6F9A"},{"x":532,"y":798,"c":"#EE6F9A"},{"x":710,"y":790,"c":"#3FAE49"},{"x":655,"y":970,"c":"#3FAE49"},{"x":660,"y":460,"c":"#3FAE49"},{"x":720,"y":832,"c":"#B87FC2"},{"x":575,"y":1012,"c":"#B87FC2"},{"x":540,"y":880,"c":"#3FAE49"},{"x":248,"y":680,"c":"#3FAE49"},{"x":470,"y":520,"c":"#EE6F9A"},{"x":265,"y":635,"c":"#B87FC2"},{"x":262,"y":680,"c":"#EE7FB0"},{"x":600,"y":690,"c":"#EE7FB0"},{"x":608,"y":660,"c":"#3FAE49"}]},
 "mark":{"type":"circle","size":12,"opacity":1},"encoding":{"color":{"field":"c","type":"nominal","scale":null,"legend":null}}},
{"data":{"values":[{"x":262,"x2":292,"y":388,"y2":470},{"x":635,"x2":735,"y":605,"y2":650},{"x":540,"x2":607,"y":900,"y2":985},{"x":505,"x2":560,"y":930,"y2":1040}]},
 "mark":{"type":"rule","strokeWidth":1.5,"color":"#231f20"},"encoding":{"x2":{"field":"x2"},"y2":{"field":"y2"}}},
{"data":{"values":[{"t":"6","x":437,"y":352},{"t":"3","x":396,"y":447},{"t":"26","x":505,"y":465},{"t":"11","x":578,"y":425},{"t":"14","x":655,"y":525},{"t":"13","x":735,"y":590},{"t":"28","x":408,"y":525},{"t":"34","x":512,"y":533},{"t":"21","x":587,"y":540},{"t":"32","x":263,"y":352},{"t":"18","x":257,"y":500},{"t":"10","x":183,"y":552},{"t":"15","x":240,"y":578},{"t":"19","x":197,"y":600},{"t":"4","x":215,"y":650},{"t":"12","x":377,"y":678},{"t":"22","x":518,"y":650},{"t":"9","x":396,"y":758},{"t":"31","x":273,"y":712},{"t":"33","x":675,"y":688},{"t":"8","x":755,"y":670},{"t":"16","x":620,"y":765},{"t":"27","x":480,"y":813},{"t":"30","x":577,"y":848},{"t":"23","x":652,"y":855},{"t":"25","x":748,"y":865},{"t":"17","x":508,"y":875},{"t":"2","x":285,"y":860},{"t":"29","x":430,"y":912},{"t":"20","x":627,"y":948},{"t":"24","x":640,"y":1017},{"t":"1","x":493,"y":1005},{"t":"7","x":580,"y":1050},{"t":"5","x":250,"y":1023}]},
 "mark":{"type":"text","fontSize":22},"encoding":{"text":{"field":"t"}}},
{"data":{"values":[{"t":"B","x":25,"y":55}]},"mark":{"type":"text","fontSize":37,"fontWeight":"bold"},"encoding":{"text":{"field":"t"}}},
{"data":{"values":[{"t":"CD45⁺ cells","x":455,"y":200}]},"mark":{"type":"text","fontSize":30},"encoding":{"text":{"field":"t"}}},
{"data":{"values":[{"t":"-SNE1","x":387,"y":1180}]},"mark":{"type":"text","fontSize":30,"align":"left"},"encoding":{"text":{"field":"t"}}},
{"data":{"values":[{"t":"t","x":372,"y":1180}]},"mark":{"type":"text","fontSize":30,"fontStyle":"italic"},"encoding":{"text":{"field":"t"}}},
{"data":{"values":[{"t":"-SNE2","x":78,"y":765}]},"mark":{"type":"text","fontSize":30,"angle":270,"align":"left"},"encoding":{"text":{"field":"t"}}},
{"data":{"values":[{"t":"t","x":78,"y":782}]},"mark":{"type":"text","fontSize":30,"angle":270,"fontStyle":"italic"},"encoding":{"text":{"field":"t"}}},
{"data":{"values":[{"x":145,"y":285}]},"mark":{"type":"point","shape":"triangle-up","size":220,"filled":true,"color":"#231f20","opacity":1}},
{"data":{"values":[{"x":750,"y":1097}]},"mark":{"type":"point","shape":"triangle-right","size":220,"filled":true,"color":"#231f20","opacity":1}}
]}
]},
{"encoding":{"x":{"field":"x","type":"quantitative","scale":{"domain":[-36,1207],"range":[1084,1638.9]},"axis":{"orient":"bottom","offset":-526,"labels":false,"ticks":false,"title":null,"domainWidth":3.5,"domainColor":"#231f20"}},"y":{"field":"y","type":"quantitative","scale":{"domain":[270,1097],"range":[90,365.7]},"axis":{"orient":"left","offset":-1084,"labels":false,"ticks":false,"title":null,"domainWidth":3.5,"domainColor":"#231f20"}}},
"layer":[
{"data":{"name":"density"},"mark":{"type":"line","strokeWidth":0,"order":false,"interpolate":"cardinal-closed","tension":0.4},
 "encoding":{"detail":{"field":"g","type":"nominal"},
  "fill":{"field":"l","type":"quantitative","scale":{"domain":[0,0.12,0.27,0.42,0.58,0.78,1],"range":["#14265A","#20376F","#3D4C74","#6F6F6E","#8F8A68","#C3B55A","#FDE93B"]},
   "legend":{"orient":"none","legendX":1649,"legendY":245,"title":"Density","titleFontSize":20,"titleFontWeight":"normal","titleColor":"#231f20","titlePadding":8,"gradientLength":79,"gradientThickness":16,"values":[0.03,0.97],"labelExpr":"datum.value>0.5?'Max':'Min'","labelFontSize":20,"labelColor":"#231f20","labelOverlap":false,"tickCount":2}}}},
{"data":{"name":"speck"},"mark":{"type":"circle","size":8,"color":"black","opacity":1}},
{"data":{"name":"ellipses"},"transform":[{"filter":"datum.k==='g'"}],"mark":{"type":"line","interpolate":"cardinal-closed","strokeWidth":4,"strokeDash":[10,7],"order":false,"color":"#C8A02E"},"encoding":{"detail":{"field":"g","type":"nominal"}}},
{"data":{"name":"ellipses"},"transform":[{"filter":"datum.k==='s'"}],"mark":{"type":"line","interpolate":"cardinal-closed","strokeWidth":4,"strokeDash":[10,7],"order":false,"color":"#F47A70"},"encoding":{"detail":{"field":"g","type":"nominal"}}},
{"data":{"values":[{"x":78,"x2":125,"y":187}]},"mark":{"type":"rule","strokeWidth":3,"color":"#ED1C24"},"encoding":{"x2":{"field":"x2"}}},
{"data":{"values":[{"x":645,"x2":692,"y":187},{"x":795,"x2":842,"y":187}]},"mark":{"type":"rule","strokeWidth":3,"color":"#1B2A78"},"encoding":{"x2":{"field":"x2"}}},
{"data":{"values":[{"x":848,"x2":1088,"y":1217}]},"mark":{"type":"rule","strokeWidth":4,"strokeDash":[17,14],"color":"#231f20"},"encoding":{"x2":{"field":"x2"}}},
{"data":{"values":[{"t":"Progressors","x":266,"y":147}]},"mark":{"type":"text","fontSize":31,"color":"#ED1C24"},"encoding":{"text":{"field":"t"}}},
{"data":{"values":[{"t":"Non-Progressors","x":908,"y":147}]},"mark":{"type":"text","fontSize":31,"color":"#1B2A78"},"encoding":{"text":{"field":"t"}}},
{"data":{"values":[{"t":"C","x":-128,"y":55}]},"mark":{"type":"text","fontSize":37,"fontWeight":"bold"},"encoding":{"text":{"field":"t"}}},
{"data":{"values":[{"t":"-SNE1","x":522,"y":1175},{"t":"< 0.05","x":1155,"y":1217}]},"mark":{"type":"text","fontSize":30,"align":"left"},"encoding":{"text":{"field":"t"}}},
{"data":{"values":[{"t":"t","x":505,"y":1175},{"t":"q","x":1115,"y":1217}]},"mark":{"type":"text","fontSize":30,"fontStyle":"italic"},"encoding":{"text":{"field":"t"}}},
{"data":{"values":[{"t":"-SNE2","x":-76,"y":795}]},"mark":{"type":"text","fontSize":30,"angle":270,"align":"left"},"encoding":{"text":{"field":"t"}}},
{"data":{"values":[{"t":"t","x":-76,"y":812}]},"mark":{"type":"text","fontSize":30,"angle":270,"fontStyle":"italic"},"encoding":{"text":{"field":"t"}}},
{"data":{"values":[{"x":-36,"y":270}]},"mark":{"type":"point","shape":"triangle-up","size":220,"filled":true,"color":"#231f20","opacity":1}},
{"data":{"values":[{"x":1207,"y":1097}]},"mark":{"type":"point","shape":"triangle-right","size":220,"filled":true,"color":"#231f20","opacity":1}}
]},
{"encoding":{"x":{"field":"x","type":"quantitative","scale":{"domain":[0.19,2.66],"range":[113,293]},"axis":{"orient":"bottom","offset":-95.3,"values":[1,2],"labelExpr":"datum.value==1?'P':'NP'","labelFontSize":30,"labelPadding":3,"title":null,"tickSize":12,"tickWidth":3.5,"tickColor":"black","domainWidth":3.5,"domainColor":"black","labelColor":{"condition":{"test":"datum.value==1","value":"#ED1C24"},"value":"#1B2A78"}}},
  "y":{"field":"y","type":"quantitative","scale":{"domain":[0,10],"range":[796.7,545]},"axis":{"orient":"left","offset":-125,"values":[0,2,4,6,8,10],"labelFontSize":30,"labelColor":"#231f20","labelPadding":3,"title":null,"tickSize":12,"tickWidth":3.5,"tickColor":"black","domainWidth":3.5,"domainColor":"black"}}},
"layer":[
{"data":{"values":[{"g":"P","x":1,"y":2.85},{"g":"NP","x":2,"y":6.2}]},"mark":{"type":"bar","orient":"vertical","size":45,"fill":"white","fillOpacity":0,"strokeWidth":5},
 "encoding":{"stroke":{"field":"g","type":"nominal","scale":{"domain":["P","NP"],"range":["#ED1C24","#1B2A78"]},"legend":null}}},
{"data":{"values":[{"g":"P","x":1,"y":4.87},{"g":"P","x":1,"y":3.3},{"g":"P","x":0.863,"y":2.46},{"g":"P","x":1.137,"y":2.53},{"g":"P","x":1.137,"y":2.09},{"g":"P","x":1,"y":1.65},{"g":"NP","x":2,"y":9.25},{"g":"NP","x":2,"y":6.75},{"g":"NP","x":2,"y":6.1},{"g":"NP","x":1.735,"y":5.85},{"g":"NP","x":2.26,"y":5.83},{"g":"NP","x":2,"y":5.44},{"g":"NP","x":2.26,"y":5.18},{"g":"NP","x":1.735,"y":5.0}]},
 "mark":{"type":"circle","size":85,"color":"black","opacity":1}},
{"data":{"values":[{"x":0.96,"x2":1.9,"y":10}]},"mark":{"type":"rule","strokeWidth":4,"color":"black"},"encoding":{"x2":{"field":"x2"}}},
{"data":{"values":[{"t":"*","x":1.42,"y":10.41}]},"mark":{"type":"text","fontSize":30},"encoding":{"text":{"field":"t"}}},
{"data":{"values":[{"t":"D","x":-1.19,"y":12.6}]},"mark":{"type":"text","fontSize":37,"fontWeight":"bold"},"encoding":{"text":{"field":"t"}}},
{"data":{"values":[{"t":"(% of CD45⁺ cells)","x":-0.67,"y":5.2}]},"mark":{"type":"text","fontSize":36,"angle":270},"encoding":{"text":{"field":"t"}}},
{"data":{"values":[{"t":"Cluster_1","x":-1.12,"y":5.15}]},"mark":{"type":"text","fontSize":31,"angle":270,"color":"#F47F77"},"encoding":{"text":{"field":"t"}}}
]},
{"resolve":{"scale":{"x":"independent","y":"independent"},"axis":{"x":"independent","y":"independent"}},
"layer":[
{"encoding":{"x":{"field":"x","type":"quantitative","scale":{"domain":[150,1212],"range":[391.2,824.7]},"axis":{"orient":"bottom","offset":-47,"labels":false,"ticks":false,"title":null,"domainWidth":3.5,"domainColor":"#231f20"}},"y":{"field":"y","type":"quantitative","scale":{"domain":[216,1155],"range":[532,845]},"axis":{"orient":"left","offset":-391.2,"labels":false,"ticks":false,"title":null,"domainWidth":3.5,"domainColor":"#231f20"}}},
"layer":[
{"data":{"values":[{"x":183,"x2":525,"y":218,"y2":637}]},"mark":{"type":"rect","fill":"white","fillOpacity":0,"stroke":"#231f20","strokeWidth":2},"encoding":{"x2":{"field":"x2"},"y2":{"field":"y2"}}},
{"data":{"values":[{"t":"E","x":45,"y":55}]},"mark":{"type":"text","fontSize":37,"fontWeight":"bold"},"encoding":{"text":{"field":"t"}}},
{"data":{"values":[{"t":"cluster_1","x":350,"y":152},{"t":"CD14","x":715,"y":152},{"t":"HLA-DR","x":1072,"y":152},{"t":"CD16","x":352,"y":692},{"t":"CD56","x":715,"y":692},{"t":"CCR6","x":1072,"y":692}]},"mark":{"type":"text","fontSize":30},"encoding":{"text":{"field":"t"}}},
{"data":{"values":[{"t":"-SNE1","x":645,"y":1260}]},"mark":{"type":"text","fontSize":30,"align":"left"},"encoding":{"text":{"field":"t"}}},
{"data":{"values":[{"t":"t","x":625,"y":1260}]},"mark":{"type":"text","fontSize":30,"fontStyle":"italic"},"encoding":{"text":{"field":"t"}}},
{"data":{"values":[{"t":"-SNE2","x":75,"y":795}]},"mark":{"type":"text","fontSize":30,"angle":270,"align":"left"},"encoding":{"text":{"field":"t"}}},
{"data":{"values":[{"t":"t","x":75,"y":812}]},"mark":{"type":"text","fontSize":30,"angle":270,"fontStyle":"italic"},"encoding":{"text":{"field":"t"}}},
{"data":{"values":[{"t":"Expression","x":1238,"y":722}]},"mark":{"type":"text","fontSize":23,"align":"left"},"encoding":{"text":{"field":"t"}}},
{"data":{"values":[{"x":150,"y":216}]},"mark":{"type":"point","shape":"triangle-up","size":220,"filled":true,"color":"#231f20","opacity":1}},
{"data":{"values":[{"x":1212,"y":1155}]},"mark":{"type":"point","shape":"triangle-right","size":220,"filled":true,"color":"#231f20","opacity":1}}
]},
{"data":{"name":"map"},"mark":{"type":"line","strokeWidth":0,"order":false,"interpolate":"cardinal-closed","tension":0.6},"encoding":{"x":{"field":"x","type":"quantitative","scale":{"domain":[30,785],"range":[411.7,538]},"axis":null},"y":{"field":"y","type":"quantitative","scale":{"domain":[28,790],"range":[538,667]},"axis":null},"detail":{"field":"c","type":"nominal"},"fill":{"condition":{"test":"datum.c==='1a'||datum.c==='1b'","value":"#F4694A"},"value":"#BDBDBD"}}},
{"data":{"name":"map"},"transform":[{"lookup":"c","from":{"data":{"name":"expr"},"key":"c","fields":["CD14"]}}],"mark":{"type":"line","strokeWidth":0,"order":false,"interpolate":"cardinal-closed","tension":0.6},"encoding":{"x":{"field":"x","type":"quantitative","scale":{"domain":[30,785],"range":[560,686]},"axis":null},"y":{"field":"y","type":"quantitative","scale":{"domain":[28,790],"range":[538,667]},"axis":null},"detail":{"field":"c","type":"nominal"},"fill":{"field":"CD14","type":"quantitative","scale":{"scheme":"magma","domain":[-1.3,8.9]},"legend":{"orient":"none","legendX":842,"legendY":718,"title":null,"gradientLength":122,"gradientThickness":24,"values":[0,2.5,5,7.5],"format":".1f","labelFontSize":23,"labelColor":"#231f20","labelOverlap":false}}}},
{"data":{"name":"map"},"transform":[{"lookup":"c","from":{"data":{"name":"expr"},"key":"c","fields":["HLADR"]}}],"mark":{"type":"line","strokeWidth":0,"order":false,"interpolate":"cardinal-closed","tension":0.6},"encoding":{"x":{"field":"x","type":"quantitative","scale":{"domain":[30,785],"range":[705.5,831]},"axis":null},"y":{"field":"y","type":"quantitative","scale":{"domain":[28,790],"range":[538,667]},"axis":null},"detail":{"field":"c","type":"nominal"},"fill":{"field":"HLADR","type":"quantitative","scale":{"scheme":"magma","domain":[-1.3,8.9]},"legend":null}}},
{"data":{"name":"map"},"transform":[{"lookup":"c","from":{"data":{"name":"expr"},"key":"c","fields":["CD16"]}}],"mark":{"type":"line","strokeWidth":0,"order":false,"interpolate":"cardinal-closed","tension":0.6},"encoding":{"x":{"field":"x","type":"quantitative","scale":{"domain":[30,785],"range":[411.7,538]},"axis":null},"y":{"field":"y","type":"quantitative","scale":{"domain":[28,790],"range":[707,836]},"axis":null},"detail":{"field":"c","type":"nominal"},"fill":{"field":"CD16","type":"quantitative","scale":{"scheme":"magma","domain":[-1.3,8.9]},"legend":null}}},
{"data":{"name":"map"},"transform":[{"lookup":"c","from":{"data":{"name":"expr"},"key":"c","fields":["CD56"]}}],"mark":{"type":"line","strokeWidth":0,"order":false,"interpolate":"cardinal-closed","tension":0.6},"encoding":{"x":{"field":"x","type":"quantitative","scale":{"domain":[30,785],"range":[560,686]},"axis":null},"y":{"field":"y","type":"quantitative","scale":{"domain":[28,790],"range":[707,836]},"axis":null},"detail":{"field":"c","type":"nominal"},"fill":{"field":"CD56","type":"quantitative","scale":{"scheme":"magma","domain":[-1.3,8.9]},"legend":null}}},
{"data":{"name":"map"},"transform":[{"lookup":"c","from":{"data":{"name":"expr"},"key":"c","fields":["CCR6"]}}],"mark":{"type":"line","strokeWidth":0,"order":false,"interpolate":"cardinal-closed","tension":0.6},"encoding":{"x":{"field":"x","type":"quantitative","scale":{"domain":[30,785],"range":[705.5,831]},"axis":null},"y":{"field":"y","type":"quantitative","scale":{"domain":[28,790],"range":[707,836]},"axis":null},"detail":{"field":"c","type":"nominal"},"fill":{"field":"CCR6","type":"quantitative","scale":{"scheme":"magma","domain":[-1.3,8.9]},"legend":null}}}
]},
{"encoding":{"x":{"field":"x","type":"quantitative","scale":{"domain":[0.2,2.667],"range":[1097,1282]},"axis":{"orient":"bottom","offset":-93,"values":[1,2],"labelExpr":"datum.value==1?'P':'NP'","labelFontSize":30,"labelPadding":3,"title":null,"tickSize":12,"tickWidth":3.5,"tickColor":"black","domainWidth":3.5,"domainColor":"black","labelColor":{"condition":{"test":"datum.value==1","value":"#ED1C24"},"value":"#1B2A78"}}},
  "y":{"field":"y","type":"quantitative","scale":{"domain":[0,10],"range":[799,542.3]},"axis":{"orient":"left","offset":-1108,"values":[0,2,4,6,8,10],"labelFontSize":30,"labelColor":"#231f20","labelPadding":3,"title":null,"tickSize":12,"tickWidth":3.5,"tickColor":"black","domainWidth":3.5,"domainColor":"black"}}},
"layer":[
{"data":{"values":[{"g":"P","x":1,"y":5.05},{"g":"NP","x":2,"y":1.45}]},"mark":{"type":"bar","orient":"vertical","size":47,"fill":"white","fillOpacity":0,"strokeWidth":5},
 "encoding":{"stroke":{"field":"g","type":"nominal","scale":{"domain":["P","NP"],"range":["#ED1C24","#1B2A78"]},"legend":null}}},
{"data":{"values":[{"g":"P","x":1,"y":8.12},{"g":"P","x":1,"y":6.68},{"g":"P","x":0.867,"y":4.77},{"g":"P","x":1.137,"y":4.77},{"g":"P","x":1,"y":4.01},{"g":"P","x":1,"y":1.87},{"g":"NP","x":2.13,"y":3.05},{"g":"NP","x":1.87,"y":2.84},{"g":"NP","x":2,"y":1.45},{"g":"NP","x":1.74,"y":1.32},{"g":"NP","x":2.26,"y":1.13},{"g":"NP","x":2,"y":0.9},{"g":"NP","x":2.26,"y":0.52},{"g":"NP","x":1.74,"y":0.42}]},
 "mark":{"type":"circle","size":85,"color":"black","opacity":1}},
{"data":{"values":[{"x":0.98,"x2":1.9,"y":9.68}]},"mark":{"type":"rule","strokeWidth":4,"color":"black"},"encoding":{"x2":{"field":"x2"}}},
{"data":{"values":[{"t":"*","x":1.43,"y":9.92}]},"mark":{"type":"text","fontSize":30},"encoding":{"text":{"field":"t"}}},
{"data":{"values":[{"t":"F","x":-1.25,"y":12.44}]},"mark":{"type":"text","fontSize":37,"fontWeight":"bold"},"encoding":{"text":{"field":"t"}}},
{"data":{"values":[{"t":"(% of CD45⁺ cells)","x":-0.61,"y":5}]},"mark":{"type":"text","fontSize":36,"angle":270},"encoding":{"text":{"field":"t"}}},
{"data":{"values":[{"t":"Cluster_6","x":-1.05,"y":5}]},"mark":{"type":"text","fontSize":31,"angle":270,"color":"#C8A02E"},"encoding":{"text":{"field":"t"}}}
]},
{"resolve":{"scale":{"x":"independent","y":"independent"},"axis":{"x":"independent","y":"independent"}},
"layer":[
{"encoding":{"x":{"field":"x","type":"quantitative","scale":{"domain":[168,1255],"range":[1366.4,1796]},"axis":{"orient":"bottom","offset":-47,"labels":false,"ticks":false,"title":null,"domainWidth":3.5,"domainColor":"#231f20"}},"y":{"field":"y","type":"quantitative","scale":{"domain":[216,1155],"range":[532,845]},"axis":{"orient":"left","offset":-1366.4,"labels":false,"ticks":false,"title":null,"domainWidth":3.5,"domainColor":"#231f20"}}},
"layer":[
{"data":{"values":[{"x":203,"x2":555,"y":218,"y2":637}]},"mark":{"type":"rect","fill":"white","fillOpacity":0,"stroke":"#231f20","strokeWidth":2},"encoding":{"x2":{"field":"x2"},"y2":{"field":"y2"}}},
{"data":{"values":[{"t":"G","x":42,"y":55}]},"mark":{"type":"text","fontSize":37,"fontWeight":"bold"},"encoding":{"text":{"field":"t"}}},
{"data":{"values":[{"t":"cluster_6","x":378,"y":152},{"t":"CD3","x":750,"y":152},{"t":"CD8","x":1113,"y":152},{"t":"CCR7","x":378,"y":692},{"t":"CD45RO","x":750,"y":692},{"t":"CD27","x":1113,"y":692}]},"mark":{"type":"text","fontSize":30},"encoding":{"text":{"field":"t"}}},
{"data":{"values":[{"t":"-SNE1","x":680,"y":1260}]},"mark":{"type":"text","fontSize":30,"align":"left"},"encoding":{"text":{"field":"t"}}},
{"data":{"values":[{"t":"t","x":660,"y":1260}]},"mark":{"type":"text","fontSize":30,"fontStyle":"italic"},"encoding":{"text":{"field":"t"}}},
{"data":{"values":[{"t":"-SNE2","x":100,"y":805}]},"mark":{"type":"text","fontSize":30,"angle":270,"align":"left"},"encoding":{"text":{"field":"t"}}},
{"data":{"values":[{"t":"t","x":100,"y":822}]},"mark":{"type":"text","fontSize":30,"angle":270,"fontStyle":"italic"},"encoding":{"text":{"field":"t"}}},
{"data":{"values":[{"t":"Expression","x":1280,"y":733}]},"mark":{"type":"text","fontSize":22.5,"align":"left"},"encoding":{"text":{"field":"t"}}},
{"data":{"values":[{"x":168,"y":216}]},"mark":{"type":"point","shape":"triangle-up","size":220,"filled":true,"color":"#231f20","opacity":1}},
{"data":{"values":[{"x":1255,"y":1155}]},"mark":{"type":"point","shape":"triangle-right","size":220,"filled":true,"color":"#231f20","opacity":1}}
]},
{"data":{"name":"map"},"mark":{"type":"line","strokeWidth":0,"order":false,"interpolate":"cardinal-closed","tension":0.6},"encoding":{"x":{"field":"x","type":"quantitative","scale":{"domain":[30,785],"range":[1389,1513.4]},"axis":null},"y":{"field":"y","type":"quantitative","scale":{"domain":[28,790],"range":[538,667]},"axis":null},"detail":{"field":"c","type":"nominal"},"fill":{"condition":{"test":"datum.c==='6'","value":"#B8891F"},"value":"#BDBDBD"}}},
{"data":{"name":"map"},"transform":[{"lookup":"c","from":{"data":{"name":"expr"},"key":"c","fields":["CD3"]}}],"mark":{"type":"line","strokeWidth":0,"order":false,"interpolate":"cardinal-closed","tension":0.6},"encoding":{"x":{"field":"x","type":"quantitative","scale":{"domain":[30,785],"range":[1535,1660.5]},"axis":null},"y":{"field":"y","type":"quantitative","scale":{"domain":[28,790],"range":[538,667]},"axis":null},"detail":{"field":"c","type":"nominal"},"fill":{"field":"CD3","type":"quantitative","scale":{"scheme":"magma","domain":[-1,9]},"legend":{"orient":"none","legendX":1812.6,"legendY":719,"title":null,"gradientLength":121,"gradientThickness":24,"values":[0,2.5,5,7.5],"format":".1f","labelFontSize":23,"labelColor":"#231f20","labelOverlap":false}}}},
{"data":{"name":"map"},"transform":[{"lookup":"c","from":{"data":{"name":"expr"},"key":"c","fields":["CD8"]}}],"mark":{"type":"line","strokeWidth":0,"order":false,"interpolate":"cardinal-closed","tension":0.6},"encoding":{"x":{"field":"x","type":"quantitative","scale":{"domain":[30,785],"range":[1679.4,1804]},"axis":null},"y":{"field":"y","type":"quantitative","scale":{"domain":[28,790],"range":[538,667]},"axis":null},"detail":{"field":"c","type":"nominal"},"fill":{"field":"CD8","type":"quantitative","scale":{"scheme":"magma","domain":[-1,9]},"legend":null}}},
{"data":{"name":"map"},"transform":[{"lookup":"c","from":{"data":{"name":"expr"},"key":"c","fields":["CCR7"]}}],"mark":{"type":"line","strokeWidth":0,"order":false,"interpolate":"cardinal-closed","tension":0.6},"encoding":{"x":{"field":"x","type":"quantitative","scale":{"domain":[30,785],"range":[1389,1513.4]},"axis":null},"y":{"field":"y","type":"quantitative","scale":{"domain":[28,790],"range":[707,836]},"axis":null},"detail":{"field":"c","type":"nominal"},"fill":{"field":"CCR7","type":"quantitative","scale":{"scheme":"magma","domain":[-1,9]},"legend":null}}},
{"data":{"name":"map"},"transform":[{"lookup":"c","from":{"data":{"name":"expr"},"key":"c","fields":["CD45RO"]}}],"mark":{"type":"line","strokeWidth":0,"order":false,"interpolate":"cardinal-closed","tension":0.6},"encoding":{"x":{"field":"x","type":"quantitative","scale":{"domain":[30,785],"range":[1535,1660.5]},"axis":null},"y":{"field":"y","type":"quantitative","scale":{"domain":[28,790],"range":[707,836]},"axis":null},"detail":{"field":"c","type":"nominal"},"fill":{"field":"CD45RO","type":"quantitative","scale":{"scheme":"magma","domain":[-1,9]},"legend":null}}},
{"data":{"name":"map"},"transform":[{"lookup":"c","from":{"data":{"name":"expr"},"key":"c","fields":["CD27"]}}],"mark":{"type":"line","strokeWidth":0,"order":false,"interpolate":"cardinal-closed","tension":0.6},"encoding":{"x":{"field":"x","type":"quantitative","scale":{"domain":[30,785],"range":[1679.4,1804]},"axis":null},"y":{"field":"y","type":"quantitative","scale":{"domain":[28,790],"range":[707,836]},"axis":null},"detail":{"field":"c","type":"nominal"},"fill":{"field":"CD27","type":"quantitative","scale":{"scheme":"magma","domain":[-1,9]},"legend":null}}}
]}
]}
